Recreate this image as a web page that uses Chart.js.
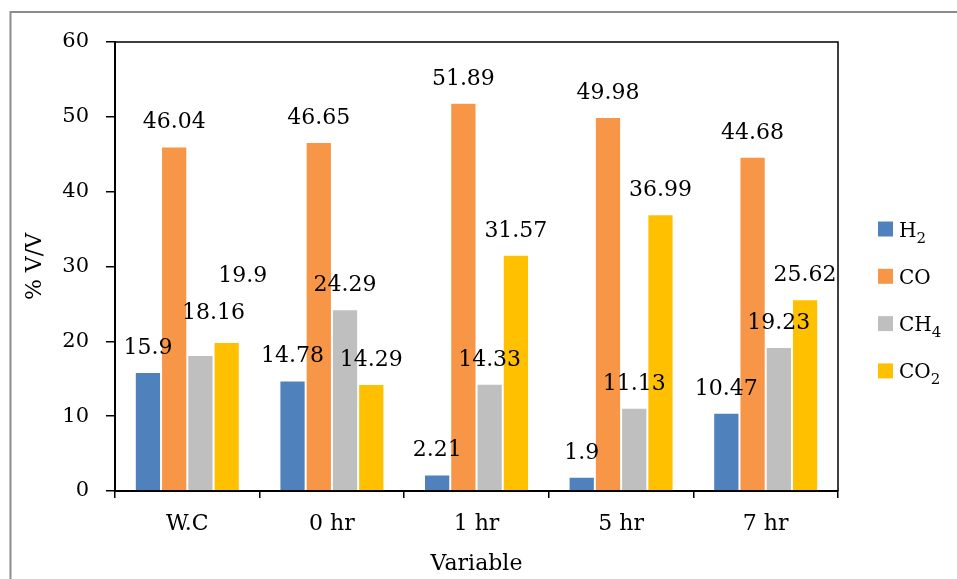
<!DOCTYPE html>
<html>
<head>
<meta charset="utf-8">
<script src="https://cdn.jsdelivr.net/npm/chart.js@4.4.1/dist/chart.umd.min.js"></script>
<style>
  html, body { margin: 0; padding: 0; background: #fff; }
  #wrap { width: 957px; height: 579px; }
</style>
</head>
<body>
<div id="wrap"><canvas id="gasChart" width="957" height="579"></canvas></div>
<script>
// chart data
const categories = ['W.C', '0 hr', '1 hr', '5 hr', '7 hr'];
const seriesNames = ['H\u2082', 'CO', 'CH\u2084', 'CO\u2082'];
const h2Values = [15.9, 14.78, 2.21, 1.9, 10.47];
const coValues = [46.04, 46.65, 51.89, 49.98, 44.68];
const ch4Values = [18.16, 24.29, 14.33, 11.13, 19.23];
const co2Values = [19.9, 14.29, 31.57, 36.99, 25.62];
const yMin = 0, yMax = 60, yStep = 10;

const seriesColors = ['#4F81BD', '#F79646', '#BFBFBF', '#FFC000'];
const FONT = 'DejaVu Serif';

// a couple of labels are pushed aside in the original to avoid overlap
const labelNudge = { '2-0': [13, -18], '3-0': [16, -42] };

Chart.defaults.font.family = FONT;
Chart.defaults.color = '#000';

// value labels above each bar
const valueLabels = {
    id: 'valueLabels',
    afterDatasetsDraw(chart) {
        const ctx = chart.ctx;
        ctx.save();
        ctx.font = '22px "' + FONT + '"';
        ctx.fillStyle = '#000';
        ctx.textAlign = 'center';
        ctx.textBaseline = 'alphabetic';
        chart.data.datasets.forEach((ds, di) => {
            const meta = chart.getDatasetMeta(di);
            meta.data.forEach((bar, i) => {
                const n = labelNudge[di + '-' + i] || [0, 0];
                ctx.fillText(String(ds.data[i]), bar.x + n[0], bar.y - 18 + n[1]);
            });
        });
        ctx.restore();
    }
};

// draws a label, turning subscript digits into real lowered small digits
function drawChem(ctx, text, x, y) {
    for (const ch of text) {
        const code = ch.charCodeAt(0);
        if (code >= 0x2080 && code <= 0x2089) {
            ctx.font = '15px "' + FONT + '"';
            const d = String(code - 0x2080);
            ctx.fillText(d, x, y + 6);
            x += ctx.measureText(d).width;
        } else {
            ctx.font = '20px "' + FONT + '"';
            ctx.fillText(ch, x, y);
            x += ctx.measureText(ch).width;
        }
    }
}

// outer frame, plot frame and legend
const frameAndLegend = {
    id: 'frameAndLegend',
    beforeDraw(chart) {
        const ctx = chart.ctx;
        ctx.save();
        ctx.strokeStyle = '#8c8c8c';
        ctx.lineWidth = 2;
        ctx.strokeRect(10.5, 12, 1200, 1200);
        ctx.restore();
    },
    afterDraw(chart) {
        const ctx = chart.ctx;
        const a = chart.chartArea;
        ctx.save();
        ctx.strokeStyle = '#000';
        ctx.lineWidth = 1.5;
        ctx.beginPath();
        ctx.moveTo(a.left, a.top);
        ctx.lineTo(a.right, a.top);
        ctx.lineTo(a.right, a.bottom);
        ctx.stroke();

        ctx.textAlign = 'left';
        ctx.textBaseline = 'alphabetic';
        chart.data.datasets.forEach((ds, i) => {
            const cy = 229 + i * 47.3;
            ctx.fillStyle = ds.backgroundColor;
            ctx.fillRect(878, cy - 7.5, 15, 15);
            ctx.fillStyle = '#000';
            drawChem(ctx, ds.label, 899, cy + 7.5);
        });
        ctx.restore();
    }
};

const allValues = [h2Values, coValues, ch4Values, co2Values];

new Chart(document.getElementById('gasChart'), {
    type: 'bar',
    data: {
        labels: categories,
        datasets: allValues.map((vals, i) => ({
            label: seriesNames[i],
            data: vals,
            backgroundColor: seriesColors[i],
            borderColor: 'rgba(255,255,255,0.75)',
            borderWidth: 1,
            categoryPercentage: 0.726,
            barPercentage: 1.0
        }))
    },
    options: {
        responsive: false,
        animation: false,
        layout: { padding: { top: 42, right: 119, left: 0, bottom: 0 } },
        plugins: {
            legend: { display: false },
            tooltip: { enabled: false }
        },
        scales: {
            x: {
                grid: { drawOnChartArea: false, tickLength: 7, color: '#000', lineWidth: 1.5, offset: true },
                border: { color: '#000', width: 2 },
                ticks: { font: { size: 22 }, padding: 13, color: '#000' },
                title: { display: true, text: 'Variable', font: { size: 22 }, padding: { top: 0, bottom: 2 }, color: '#000' },
                afterFit(scale) { scale.height = 88; }
            },
            y: {
                min: yMin,
                max: yMax,
                grid: { drawOnChartArea: false, tickLength: 9, color: '#000', lineWidth: 1.5 },
                border: { color: '#000', width: 2 },
                ticks: { stepSize: yStep, font: { size: 21 }, padding: 17, color: '#000' },
                title: { display: true, text: '% V/V', font: { size: 22 }, padding: { top: 22, bottom: 0 }, color: '#000' },
                afterFit(scale) { scale.width = 115; }
            }
        }
    },
    plugins: [valueLabels, frameAndLegend]
});
</script>
</body>
</html>
